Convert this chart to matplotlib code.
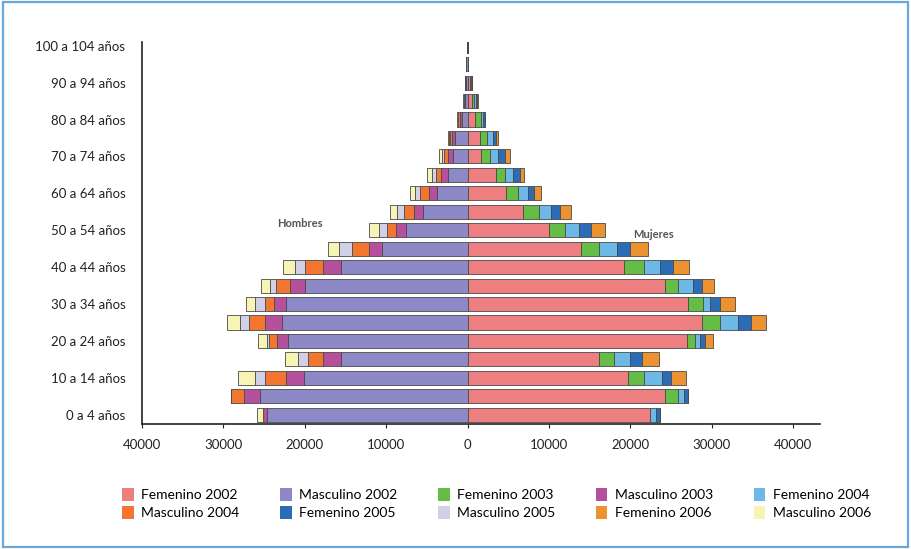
import matplotlib
matplotlib.use("Agg")
import matplotlib.pyplot as plt
from matplotlib.patches import Rectangle, Patch
import numpy as np

plt.rcParams['font.family'] = ['Lato', 'DejaVu Sans']

# Age groups (5-year bands)
age_groups = [f"{a} a {a + 4} años" for a in range(0, 105, 5)]

# Male population by year (drawn on the left side)
masc_2002 = [24700, 25500, 20100, 15600, 22100, 22800, 22290, 19920, 15580, 10490, 7560,
             5530, 3780, 2360, 1750, 1550, 730, 300, 200, 150, 80]
masc_2003 = [400, 2030, 2240, 2150, 1340, 2100, 1540, 1950, 2230, 1620, 1220,
             1100, 1020, 890, 600, 350, 250, 100, 60, 30, 0]
masc_2004 = [0, 1590, 2560, 1900, 900, 2000, 1100, 1710, 2110, 2040, 1100,
             1220, 1020, 610, 500, 250, 150, 50, 40, 0, 0]
masc_2005 = [0, 0, 1220, 1200, 250, 1100, 1220, 730, 1340, 1620, 1010,
             820, 610, 490, 300, 150, 100, 40, 20, 0, 0]
masc_2006 = [800, 0, 2030, 1600, 1100, 1600, 1020, 1020, 1430, 1430, 1220,
             820, 610, 610, 350, 150, 110, 30, 10, 0, 0]

# Female population by year (drawn on the right side)
fem_2002 = [22450, 24280, 19680, 16140, 26900, 28750, 27120, 24280, 19190, 13990, 10040,
            6800, 4760, 3540, 1710, 1500, 900, 500, 300, 100, 60]
fem_2003 = [0, 1620, 1950, 1910, 1010, 2240, 1760, 1620, 2530, 2150, 1920,
            2030, 1430, 1020, 1020, 940, 730, 300, 120, 0, 0]
fem_2004 = [730, 700, 2240, 1950, 610, 2240, 890, 1830, 1870, 2160, 1740,
            1430, 1220, 1020, 1020, 690, 300, 200, 80, 0, 0]
fem_2005 = [490, 520, 1100, 1430, 610, 1630, 1220, 1020, 1630, 1620, 1510,
            1130, 730, 810, 810, 400, 270, 200, 50, 0, 0]
fem_2006 = [0, 0, 1870, 2030, 1010, 1830, 1830, 1500, 2030, 2200, 1620,
            1310, 890, 490, 610, 150, 0, 100, 20, 0, 0]

x_ticks = [-40000, -30000, -20000, -10000, 0, 10000, 20000, 30000, 40000]
x_tick_labels = ["40000", "30000", "20000", "10000", "0", "10000", "20000", "30000", "40000"]

colors = {
    "Femenino 2002": "#ee7f80", "Masculino 2002": "#8d89c6",
    "Femenino 2003": "#66bd45", "Masculino 2003": "#b5519c",
    "Femenino 2004": "#6db8e4", "Masculino 2004": "#f37630",
    "Femenino 2005": "#2a6cb5", "Masculino 2005": "#d2d0e7",
    "Femenino 2006": "#ed9230", "Masculino 2006": "#f8f4b6",
}

male_series = [("Masculino 2002", masc_2002), ("Masculino 2003", masc_2003),
               ("Masculino 2004", masc_2004), ("Masculino 2005", masc_2005),
               ("Masculino 2006", masc_2006)]
female_series = [("Femenino 2002", fem_2002), ("Femenino 2003", fem_2003),
                 ("Femenino 2004", fem_2004), ("Femenino 2005", fem_2005),
                 ("Femenino 2006", fem_2006)]

fig = plt.figure(figsize=(9.11, 5.49), dpi=100)
ax = fig.add_axes([0.1559, 0.2277, 0.7442, 0.6958])

y = np.arange(len(age_groups))
bar_h = 0.76
edge = dict(edgecolor="#4a4a4a", linewidth=0.6)

cum = np.zeros(len(age_groups))
for name, vals in male_series:
    v = np.array(vals, dtype=float)
    ax.barh(y, -v, left=-cum, height=bar_h, color=colors[name], **edge)
    cum += v

cum = np.zeros(len(age_groups))
for name, vals in female_series:
    v = np.array(vals, dtype=float)
    ax.barh(y, v, left=cum, height=bar_h, color=colors[name], **edge)
    cum += v

ax.set_xlim(-40000, 43300)
ax.set_ylim(-0.5, 20.2)
ax.set_xticks(x_ticks)
ax.set_xticklabels(x_tick_labels)
ax.set_yticks(y[::2])
ax.set_yticklabels(age_groups[::2])

for s in ("top", "right"):
    ax.spines[s].set_visible(False)
for s in ("left", "bottom"):
    ax.spines[s].set_color("#222222")
    ax.spines[s].set_linewidth(1.2)
ax.tick_params(axis="both", labelsize=9.5, colors="#222222", length=3, width=0.8)
ax.tick_params(axis="y", length=0, pad=12)
ax.tick_params(axis="x", pad=8)

ax.text(-20600, 10.35, "Hombres", fontsize=8, fontweight="bold", color="#555555",
        ha="center", va="center")
ax.text(22800, 9.76, "Mujeres", fontsize=8, fontweight="bold", color="#555555",
        ha="center", va="center")

legend_order = ["Femenino 2002", "Masculino 2002", "Femenino 2003", "Masculino 2003",
                "Femenino 2004", "Masculino 2004", "Femenino 2005", "Masculino 2005",
                "Femenino 2006", "Masculino 2006"]
handles = [Patch(facecolor=colors[n], edgecolor="none", label=n) for n in legend_order]
# legend fills column by column; reorder so entries read row by row
ncol, nrow = 5, 2
reordered = [handles[r * ncol + c] for c in range(ncol) for r in range(nrow)]
fig.legend(handles=reordered, loc="center", bbox_to_anchor=(0.545, 0.083), ncol=ncol,
           frameon=False, fontsize=10, handlelength=0.85, handleheight=1.1,
           handletextpad=0.55, columnspacing=2.9, labelspacing=0.35)

fig.patches.append(Rectangle((0.003, 0.003), 0.994, 0.994, transform=fig.transFigure,
                             fill=False, edgecolor="#6aa7da", linewidth=1.6))

fig.savefig("out.png", dpi=100, facecolor="white")
